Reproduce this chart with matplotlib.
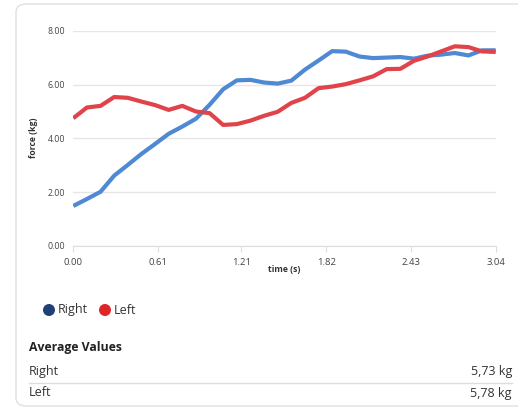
import numpy as np
import matplotlib.pyplot as plt
from matplotlib.patches import FancyBboxPatch, Ellipse

plt.rcParams['font.family'] = ['Open Sans', 'DejaVu Sans']

time_max = 3.04
right = [1.48, 1.74, 2.01, 2.61, 3.01, 3.42, 3.79, 4.17, 4.44, 4.73,
         5.25, 5.83, 6.16, 6.18, 6.08, 6.04, 6.15, 6.56, 6.90, 7.25,
         7.23, 7.05, 6.99, 7.01, 7.03, 6.97, 7.08, 7.12, 7.18, 7.09,
         7.28, 7.28]
left = [4.75, 5.15, 5.21, 5.54, 5.51, 5.37, 5.24, 5.06, 5.21, 5.00,
        4.94, 4.50, 4.53, 4.66, 4.84, 4.99, 5.32, 5.51, 5.87, 5.93,
        6.02, 6.16, 6.31, 6.58, 6.59, 6.89, 7.05, 7.24, 7.43, 7.40,
        7.24, 7.22]
x_ticks = [0.00, 0.61, 1.21, 1.82, 2.43, 3.04]
y_ticks = [0, 2, 4, 6, 8]
avg_names = ['Right', 'Left']
avg_values = ['5,73 kg', '5,78 kg']

t = np.linspace(0, time_max, len(right))

fig = plt.figure(figsize=(5.18, 4.07), dpi=100)
W, H = 518, 407

# card background
card = FancyBboxPatch((16 / W, 1 - 406 / H), 520 / W, 402 / H,
                      boxstyle='round,pad=0,rounding_size=0.02',
                      transform=fig.transFigure, fc='white', ec='#e0e0e0',
                      lw=1.0, zorder=-5)
fig.patches.append(card)

ax = fig.add_axes([73.3 / W, 1 - 245.7 / H, 422.4 / W, 214.7 / H])
ax.set_zorder(2)
ax.set_facecolor('none')
ax.plot(t, right, color='#4f89d3', lw=3, solid_capstyle='butt', zorder=3)
ax.plot(t, left, color='#e0444a', lw=3, solid_capstyle='butt', zorder=3)
ax.set_xlim(0, time_max)
ax.set_ylim(0, 8)
ax.set_xticks(x_ticks)
ax.set_xticklabels(['%.2f' % v for v in x_ticks])
ax.set_yticks(y_ticks)
ax.set_yticklabels(['%.2f' % v for v in y_ticks])
ax.grid(axis='y', color='#e6e6e6', lw=1)
ax.set_axisbelow(True)
for s in ['top', 'right', 'left']:
    ax.spines[s].set_visible(False)
ax.spines['bottom'].set_color('#dddddd')
ax.tick_params(axis='y', length=0, pad=6, labelsize=6.3, labelcolor='#444444')
ax.tick_params(axis='x', length=4, color='#dddddd', pad=5, labelsize=6.8, labelcolor='#444444')

fig.text(284 / W, 1 - 270 / H, 'time (s)', fontsize=6.2, fontweight='bold',
         ha='center', va='center', color='#333333')
fig.text(33 / W, 1 - 138 / H, 'force (kg)', fontsize=6.2, fontweight='bold',
         rotation=90, ha='center', va='center', color='#333333')

# legend
r = 6
fig.patches.append(Ellipse((49 / W, 1 - 310 / H), 2 * r / W, 2 * r / H,
                           transform=fig.transFigure, fc='#1f4176', ec='none'))
fig.text(58 / W, 1 - 310 / H, 'Right', fontsize=9, va='center', color='#333333')
fig.patches.append(Ellipse((105 / W, 1 - 310 / H), 2 * r / W, 2 * r / H,
                           transform=fig.transFigure, fc='#e0252a', ec='none'))
fig.text(114 / W, 1 - 310 / H, 'Left', fontsize=9, va='center', color='#333333')

# average values table
fig.text(29 / W, 1 - 348 / H, 'Average Values', fontsize=8.8, fontweight='bold',
         va='center', color='#222222')
rows_y = [372, 393]
for name, val, yy in zip(avg_names, avg_values, rows_y):
    fig.text(29 / W, 1 - yy / H, name, fontsize=9, va='center', color='#333333')
    fig.text(512 / W, 1 - yy / H, val, fontsize=9, va='center', ha='right', color='#333333')
fig.add_artist(plt.Line2D([29 / W, 512 / W], [1 - 383 / H, 1 - 383 / H],
                          transform=fig.transFigure, color='#dddddd', lw=1))

fig.savefig('out.png', dpi=100)
